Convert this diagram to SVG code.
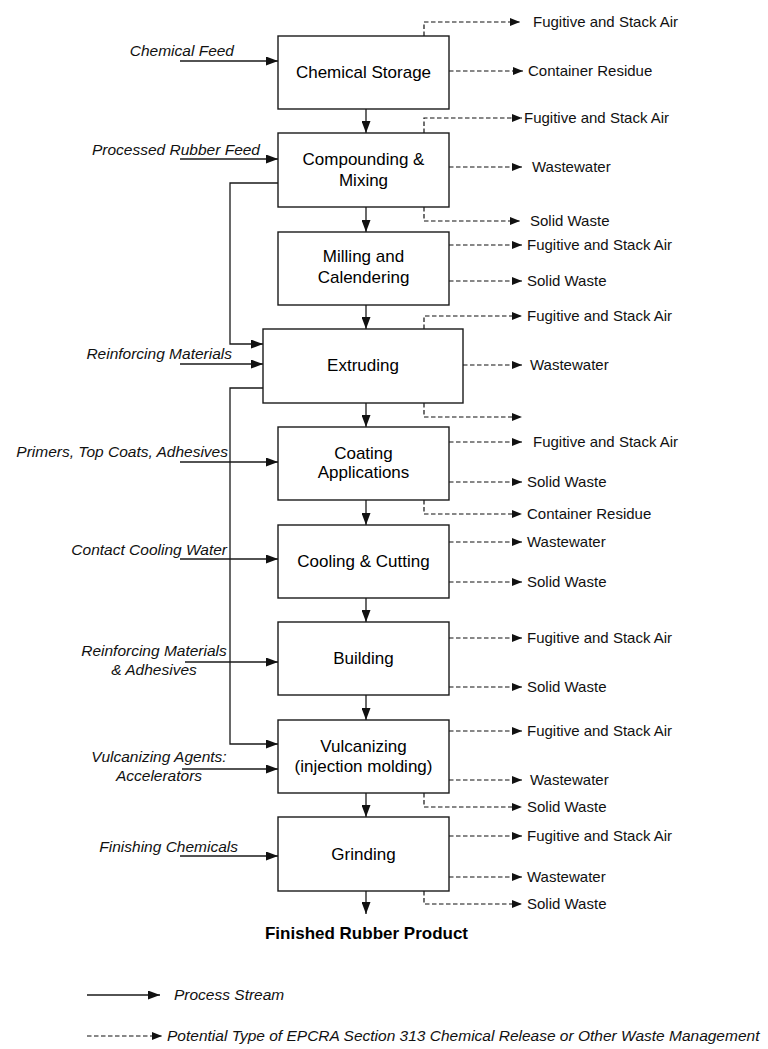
<svg xmlns="http://www.w3.org/2000/svg" width="768" height="1049" viewBox="0 0 768 1049">
<style>
.box{fill:#fff;stroke:#1a1a1a;stroke-width:1.4}
.bt{font-family:"Liberation Sans",Arial,sans-serif;font-size:17px;fill:#000;text-anchor:middle}
.in{font-family:"Liberation Sans",Arial,sans-serif;font-size:15.5px;font-style:italic;fill:#111}
.out{font-family:"Liberation Sans",Arial,sans-serif;font-size:15px;fill:#111}
.fin{font-family:"Liberation Sans",Arial,sans-serif;font-size:17px;font-weight:bold;fill:#000;text-anchor:middle}
.s{fill:none;stroke:#1a1a1a;stroke-width:1.3;marker-end:url(#ah)}
.d{fill:none;stroke:#111;stroke-width:1.2;stroke-dasharray:4.5 2.5;marker-end:url(#dh)}
</style>
<defs>
<marker id="ah" markerUnits="userSpaceOnUse" markerWidth="12" markerHeight="9" refX="12" refY="4.5" orient="auto"><path d="M0,0 L12,4.5 L0,9 z" fill="#111"/></marker>
<marker id="dh" markerUnits="userSpaceOnUse" markerWidth="10" markerHeight="8" refX="10" refY="4" orient="auto"><path d="M0,0 L10,4 L0,8 z" fill="#111"/></marker>
</defs>

<g id="connectors">
  <path class="s" d="M366,109 V133"/>
  <path class="s" d="M366,207 V232"/>
  <path class="s" d="M366,305 V329"/>
  <path class="s" d="M366,403 V427"/>
  <path class="s" d="M366,500 V525"/>
  <path class="s" d="M366,598 V622"/>
  <path class="s" d="M366,695 V720"/>
  <path class="s" d="M366,793 V817"/>
  <path class="s" d="M366,891 V914"/>
  <path class="s" d="M278,183 H230 V344 H263"/>
  <path class="s" d="M263,388 H230 V744 H278"/>
  <path class="s" d="M180,61 H278"/>
  <path class="s" d="M180,159 H278"/>
  <path class="s" d="M180,364 H263"/>
  <path class="s" d="M180,462 H278"/>
  <path class="s" d="M180,559 H278"/>
  <path class="s" d="M185,662 H278"/>
  <path class="s" d="M182,769 H278"/>
  <path class="s" d="M180,856 H278"/>
  <path class="d" d="M424,36 V22 H520"/>
  <path class="d" d="M449,71 H523"/>
  <path class="d" d="M424,133 V118 H522"/>
  <path class="d" d="M449,167 H522"/>
  <path class="d" d="M424,207 V221 H520"/>
  <path class="d" d="M449,245 H522"/>
  <path class="d" d="M449,281 H522"/>
  <path class="d" d="M424,329 V316 H522"/>
  <path class="d" d="M463,365 H522"/>
  <path class="d" d="M424,403 V417 H522"/>
  <path class="d" d="M449,442 H522"/>
  <path class="d" d="M449,482 H522"/>
  <path class="d" d="M424,500 V514 H522"/>
  <path class="d" d="M449,542 H522"/>
  <path class="d" d="M449,582 H522"/>
  <path class="d" d="M449,638 H522"/>
  <path class="d" d="M449,687 H522"/>
  <path class="d" d="M449,731 H522"/>
  <path class="d" d="M449,780 H522"/>
  <path class="d" d="M424,793 V807 H522"/>
  <path class="d" d="M449,836 H522"/>
  <path class="d" d="M449,877 H522"/>
  <path class="d" d="M424,891 V904 H522"/>
</g>

<g id="chemical-storage"><rect class="box" x="278" y="36" width="171" height="73"/><text class="bt" x="363.5" y="78">Chemical Storage</text></g>
<g id="compounding-mixing"><rect class="box" x="278" y="133" width="171" height="74"/><text class="bt" x="363.5" y="165">Compounding &amp;</text><text class="bt" x="363.5" y="186">Mixing</text></g>
<g id="milling-calendering"><rect class="box" x="278" y="232" width="171" height="73"/><text class="bt" x="363.5" y="262">Milling and</text><text class="bt" x="363.5" y="283">Calendering</text></g>
<g id="extruding"><rect class="box" x="263" y="329" width="200" height="74"/><text class="bt" x="363" y="371">Extruding</text></g>
<g id="coating-applications"><rect class="box" x="278" y="427" width="171" height="73"/><text class="bt" x="363.5" y="459">Coating</text><text class="bt" x="363.5" y="478">Applications</text></g>
<g id="cooling-cutting"><rect class="box" x="278" y="525" width="171" height="73"/><text class="bt" x="363.5" y="567">Cooling &amp; Cutting</text></g>
<g id="building"><rect class="box" x="278" y="622" width="171" height="73"/><text class="bt" x="363.5" y="664">Building</text></g>
<g id="vulcanizing"><rect class="box" x="278" y="720" width="171" height="73"/><text class="bt" x="363.5" y="752">Vulcanizing</text><text class="bt" x="363.5" y="772">(injection molding)</text></g>
<g id="grinding"><rect class="box" x="278" y="817" width="171" height="74"/><text class="bt" x="363.5" y="860">Grinding</text></g>
<g id="finished-product"><text class="fin" x="366.5" y="939">Finished Rubber Product</text></g>

<g id="input-labels">
  <text class="in" x="234" y="56" text-anchor="end">Chemical Feed</text>
  <text class="in" x="260" y="155" text-anchor="end">Processed Rubber Feed</text>
  <text class="in" x="232" y="359" text-anchor="end">Reinforcing Materials</text>
  <text class="in" x="228" y="457" text-anchor="end">Primers, Top Coats, Adhesives</text>
  <text class="in" x="227" y="555" text-anchor="end">Contact Cooling Water</text>
  <text class="in" x="154" y="656" text-anchor="middle">Reinforcing Materials</text>
  <text class="in" x="154" y="675" text-anchor="middle">&amp; Adhesives</text>
  <text class="in" x="159" y="762" text-anchor="middle">Vulcanizing Agents:</text>
  <text class="in" x="159" y="781" text-anchor="middle">Accelerators</text>
  <text class="in" x="238" y="852" text-anchor="end">Finishing Chemicals</text>
</g>

<g id="output-labels">
  <text class="out" x="533" y="27">Fugitive and Stack Air</text>
  <text class="out" x="528" y="76">Container Residue</text>
  <text class="out" x="524" y="123">Fugitive and Stack Air</text>
  <text class="out" x="532" y="172">Wastewater</text>
  <text class="out" x="530" y="226">Solid Waste</text>
  <text class="out" x="527" y="250">Fugitive and Stack Air</text>
  <text class="out" x="527" y="286">Solid Waste</text>
  <text class="out" x="527" y="321">Fugitive and Stack Air</text>
  <text class="out" x="530" y="370">Wastewater</text>
  <text class="out" x="533" y="447">Fugitive and Stack Air</text>
  <text class="out" x="527" y="487">Solid Waste</text>
  <text class="out" x="527" y="519">Container Residue</text>
  <text class="out" x="527" y="547">Wastewater</text>
  <text class="out" x="527" y="587">Solid Waste</text>
  <text class="out" x="527" y="643">Fugitive and Stack Air</text>
  <text class="out" x="527" y="692">Solid Waste</text>
  <text class="out" x="527" y="736">Fugitive and Stack Air</text>
  <text class="out" x="530" y="785">Wastewater</text>
  <text class="out" x="527" y="812">Solid Waste</text>
  <text class="out" x="527" y="841">Fugitive and Stack Air</text>
  <text class="out" x="527" y="882">Wastewater</text>
  <text class="out" x="527" y="909">Solid Waste</text>
</g>

<g id="legend">
  <path class="s" d="M87,995 H160"/>
  <text class="in" x="174" y="1000">Process Stream</text>
  <path class="d" d="M87,1036 H162"/>
  <text class="in" x="167" y="1041">Potential Type of EPCRA Section 313 Chemical Release or Other Waste Management</text>
</g>
</svg>
